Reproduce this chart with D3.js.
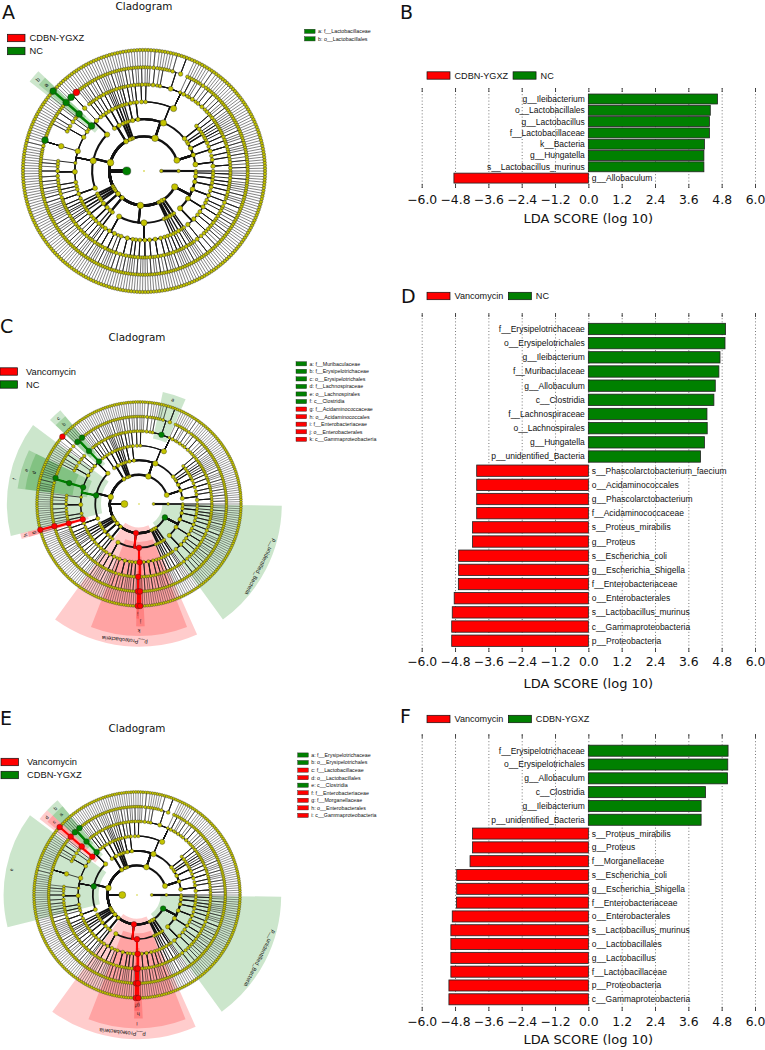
<!DOCTYPE html>
<html>
<head>
<meta charset="utf-8">
<script src="https://cdn.jsdelivr.net/npm/d3@7"></script>
<style>
body { margin: 0; background: #fff; }
svg { display: block; }
text { font-family: "DejaVu Sans", sans-serif; fill: #111; }
.lab { font-family: "Liberation Sans", Arial, sans-serif; }
</style>
</head>
<body>
<svg id="fig" width="765" height="1050"></svg>
<script>
// ---- LDA bars (signed: >0 second group, <0 first group) ----
const bGroups = ["CDBN-YGXZ", "NC"];
const bLabels = ["g__Ileibacterium","o__Lactobacillales","g__Lactobacillus","f__Lactobacillaceae","k__Bacteria","g__Hungatella","s__Lactobacillus_murinus","g__Allobaculum"];
const bValues = [4.65, 4.39, 4.36, 4.36, 4.18, 4.16, 4.16, -4.84];

const dGroups = ["Vancomycin", "NC"];
const dLabels = ["f__Erysipelotrichaceae","o__Erysipelotrichales","g__Ileibacterium","f__Muribaculaceae","g__Allobaculum","c__Clostridia","f__Lachnospiraceae","o__Lachnospirales","g__Hungatella","p__unidentified_Bacteria",
  "s__Phascolarctobacterium_faecium","o__Acidaminococcales","g__Phascolarctobacterium","f__Acidaminococcaceae","s__Proteus_mirabilis","g__Proteus","s__Escherichia_coli","g__Escherichia_Shigella","f__Enterobacteriaceae","o__Enterobacterales","s__Lactobacillus_murinus","c__Gammaproteobacteria","p__Proteobacteria"];
const dValues = [4.94, 4.92, 4.74, 4.70, 4.57, 4.52, 4.27, 4.28, 4.18, 4.04,
  -4.02, -4.02, -4.02, -4.02, -4.17, -4.17, -4.67, -4.67, -4.68, -4.83, -4.90, -4.92, -4.92];

const fGroups = ["Vancomycin", "CDBN-YGXZ"];
const fLabels = ["f__Erysipelotrichaceae","o__Erysipelotrichales","g__Allobaculum","c__Clostridia","g__Ileibacterium","p__unidentified_Bacteria",
  "s__Proteus_mirabilis","g__Proteus","f__Morganellaceae","s__Escherichia_coli","g__Escherichia_Shigella","f__Enterobacteriaceae","o__Enterobacterales","s__Lactobacillus_murinus","o__Lactobacillales","g__Lactobacillus","f__Lactobacillaceae","p__Proteobacteria","c__Gammaproteobacteria"];
const fValues = [5.03, 5.02, 5.01, 4.22, 4.06, 4.06,
  -4.17, -4.17, -4.26, -4.74, -4.74, -4.75, -4.90, -4.95, -4.95, -4.95, -4.95, -5.02, -5.02];

const ldaTicks = [-6.0, -4.8, -3.6, -2.4, -1.2, 0.0, 1.2, 2.4, 3.6, 4.8, 6.0];

// ---- cladogram letter keys ----
const aLetters = ["f__Lactobacillaceae","o__Lactobacillales"];
const cLetters = ["f__Muribaculaceae","f__Erysipelotrichaceae","o__Erysipelotrichales","f__Lachnospiraceae","o__Lachnospirales","c__Clostridia","f__Acidaminococcaceae","o__Acidaminococcales","f__Enterobacteriaceae","o__Enterobacterales","c__Gammaproteobacteria"];
const eLetters = ["f__Erysipelotrichaceae","o__Erysipelotrichales","f__Lactobacillaceae","o__Lactobacillales","c__Clostridia","f__Enterobacteriaceae","f__Morganellaceae","o__Enterobacterales","c__Gammaproteobacteria"];

// ---- taxonomy tree: phylum -> classes -> orders -> families -> genera (number = species count) ----
const actinobacteriota = [
  [ [[1,1],[1],[1,1]], [[1],[1,1]], [[1],[1]] ],
  [ [[1],[1,1],[1]], [[1],[1]] ],
  [ [[1,1],[1]], [[1]], [[1],[1]] ],
  [ [[1]], [[1],[1]] ],
  [ [[1]] ]
];
const bacteroidota = [
  [ [[1],[1,1]], [[1],[1]] ],
  [ [[1,1],[1],[1,1,1],[1,1],[1],[2,1],[1],[1],[1,1,1],[1],{n:"f__Muribaculaceae", c:[5,2,1,1]},[1,1],[1],[1,2],[1]],
    [[1],[1]], [[1,1],[1]] ],
  [ [[1],[1,1]], [[1]] ],
  [ [[1,1],[1]], [[1],[1]] ],
  [ [[1]] ]
];
const campylobacterota = [[[[1,1]]]];
const cyanobacteria = [[[[1]],[[1]]]];
const deferribacterota = [[[[1]],[[1]]]];
const desulfobacterota = [ [[[1],[1,1]], [[1],[1]]], [[[1,1]], [[1],[1]]] ];
const firmicutes = [
  [ [[1],[1]],
    {n:"o__Erysipelotrichales", c:[{n:"f__Erysipelotrichaceae", c:[{n:"g__Allobaculum", c:1}, 1, 1, {n:"g__Ileibacterium", c:1}, 1]}]},
    {n:"o__Lactobacillales", c:[{n:"f__Lactobacillaceae", c:[{n:"g__Lactobacillus", c:[1, {n:"s__Lactobacillus_murinus"}, 1]}]}, [1]]},
    [[1]] ],
  {n:"c__Clostridia", c:[
    [[1,1,1]], [[1,1],[1],[1,1]],
    {n:"o__Lachnospirales", c:[{n:"f__Lachnospiraceae", c:[1,1,1,1,1,1,{n:"g__Hungatella", c:1},1,2,1,1,1,1]}]},
    [[1]], [[1,1],[1],[1,1,1],[1,1],[1,1]], [[1],[1,1]], [[1],[1]] ]},
  [ {n:"o__Acidaminococcales", c:[{n:"f__Acidaminococcaceae", c:[{n:"g__Phascolarctobacterium", c:[{n:"s__Phascolarctobacterium_faecium"}]}, 1]}]},
    [[1,1],[1],[1]], [[1],[1]] ]
];
const fusobacteriota = [[[[1],[1]]]];
const gemmatimonadota = [[[[1]],[[1]]]];
const myxococcota = [[[[1,1]],[[1]]]];
const nitrospirota = [[[[1]]]];
const patescibacteria = [ [[[1],[1,1]], [[1],[1]]], [[[1,1]], [[1],[1]]] ];
const planctomycetota = [ [[[1,1],[1]]], [[[1]],[[1]]] ];
const proteobacteria = [
  [ [[1,1],[1]], [[1],[1],[1]], [[1,1],[1],[1]], [[1]] ],
  {n:"c__Gammaproteobacteria", c:[
    [[1],[1,1]], [[1,1],[1],[1,1]], [[1],[1]], [[1],[1]], [[1,1],[1]],
    {n:"o__Enterobacterales", c:[
      {n:"f__Enterobacteriaceae", c:[{n:"g__Escherichia_Shigella", c:[{n:"s__Escherichia_coli"}]}]},
      {n:"f__Morganellaceae", c:[{n:"g__Proteus", c:[{n:"s__Proteus_mirabilis"}]}]},
      [1] ]},
    [[1,1],[1]], [[1],[1,1],[1]], [[1,1],[1]], [[1],[1]], [[1,1]] ]},
  [[[1],[1]]]
];
const spirochaetota = [[[[1],[1]]]];
const synergistota = [[[[1]]]];
const verrucomicrobiota = [ [[[1,1],[1]]], [[[1]],[[1]]] ];
const wps2 = [[[[1]]]];
const unidentifiedBacteria = [
  [ [[1,1,1],[1,1]], [[1,1],[1],[1,1]], [[1],[1]] ],
  [ [[1,1],[1]], [[1],[1,1],[1]], [[1,1]] ],
  [ [[1],[1]], [[1,1,1],[1]], [[1],[1]] ],
  [ [[1,1],[1]], [[1],[1]] ],
  [ [[1],[1]], [[1,1]] ],
  [ [[1],[1]] ]
];
const archaeaPhylum = [[[[1]]]];

const treeSpec = {n:"root", c:[
  {n:"k__Archaea", c:[{n:"p__Archaea", c:archaeaPhylum}]},
  {n:"k__Bacteria", c:[
    {n:"p__Actinobacteriota", c:actinobacteriota},
    {n:"p__Bacteroidota", c:bacteroidota},
    {n:"p__Campylobacterota", c:campylobacterota},
    {n:"p__Cyanobacteria", c:cyanobacteria},
    {n:"p__Deferribacterota", c:deferribacterota},
    {n:"p__Desulfobacterota", c:desulfobacterota},
    {n:"p__Firmicutes", c:firmicutes},
    {n:"p__Fusobacteriota", c:fusobacteriota},
    {n:"p__Gemmatimonadota", c:gemmatimonadota},
    {n:"p__Myxococcota", c:myxococcota},
    {n:"p__Nitrospirota", c:nitrospirota},
    {n:"p__Patescibacteria", c:patescibacteria},
    {n:"p__Planctomycetota", c:planctomycetota},
    {n:"p__Proteobacteria", c:proteobacteria},
    {n:"p__Spirochaetota", c:spirochaetota},
    {n:"p__Synergistota", c:synergistota},
    {n:"p__Verrucomicrobiota", c:verrucomicrobiota},
    {n:"p__WPS-2", c:wps2},
    {n:"p__unidentified_Bacteria", c:unidentifiedBacteria}
  ]}
]};

// turn the compact spec into plain nodes (depth 6 = genus, 7 = species)
function build(spec, depth) {
  if (typeof spec === "number") {
    const node = {name: "", children: []};
    if (depth === 6) for (let i = 0; i < spec; i++) node.children.push({name: "", children: []});
    return node;
  }
  if (Array.isArray(spec)) return {name: "", children: spec.map(s => build(s, depth + 1))};
  let ch = [];
  if (typeof spec.c === "number") for (let i = 0; i < spec.c; i++) ch.push({name: "", children: []});
  else if (spec.c) ch = spec.c.map(s => build(s, depth + 1));
  return {name: spec.n, children: ch};
}
const treeData = build(treeSpec, 0);

const GREEN = "#008000", RED = "#ff0000", YEL = "#c4c400";
const svg = d3.select("#fig");

function panelLetter(t, x, y) {
  svg.append("text").attr("x", x).attr("y", y).attr("font-size", 19).text(t);
}

function drawClado(cfg) {
  const {cx, cy, R, labels, values, letters, groups, title, legX, legY, keyX, keyY} = cfg;
  const s = R / 105, step = R / 7;
  const sign = new Map(labels.map((l, i) => [l, values[i]]));
  const root = d3.hierarchy(treeData, d => d.children.length ? d.children : null);
  const leaves = root.leaves(), N = leaves.length, da = 360 / N;
  leaves.forEach((d, i) => { d.a0 = d.a1 = d.ang = i * da; });
  root.eachAfter(d => {
    if (d.children) {
      d.a0 = d.children[0].a0; d.a1 = d.children[d.children.length - 1].a1;
      d.ang = (d.a0 + d.a1) / 2;
    }
    d.r = d.depth * step;
    const v = sign.get(d.data.name);
    d.col = v === undefined ? null : (v < 0 ? RED : GREEN);
    d.nl = d.leaves().length;
  });
  const P = (a, r) => [cx + r * Math.cos(a * Math.PI / 180), cy - r * Math.sin(a * Math.PI / 180)];
  const g = svg.append("g");

  // shaded clades
  const outer = {2: 42, 3: 31, 4: 21, 5: 13}, labR = {2: 36, 3: 26, 4: 16.5, 5: 8};
  const marked = root.descendants().filter(d => d.col && d.depth >= 2 && d.depth <= 5).sort((a, b) => a.depth - b.depth);
  const arc = d3.arc();
  g.selectAll(null).data(marked).enter().append("path")
    .attr("transform", `translate(${cx},${cy})`)
    .attr("d", d => arc({innerRadius: d.r - 0.4 * step, outerRadius: R + outer[d.depth] * s,
      startAngle: (90 - d.a1 - da / 2) * Math.PI / 180, endAngle: (90 - d.a0 + da / 2) * Math.PI / 180}))
    .attr("fill", d => d.col).attr("fill-opacity", 0.2);
  marked.forEach(d => {
    const li = letters.indexOf(d.data.name);
    const txt = d.depth === 2 ? d.data.name : (li >= 0 ? "abcdefghijk"[li] : "");
    const [x, y] = P(d.ang, R + labR[d.depth] * s);
    g.append("text").attr("class", "lab").attr("x", x).attr("y", y)
      .attr("transform", `rotate(${90 - d.ang},${x},${y})`)
      .attr("text-anchor", "middle").attr("dominant-baseline", "central")
      .attr("font-size", (d.depth === 2 ? 5.8 : 5.2) * s).text(txt);
  });

  // branches
  const links = [];
  root.descendants().forEach(p => { if (p.depth >= 1 && p.children) p.children.forEach(c => links.push([p, c])); });
  const linkPath = (p, c) => {
    const [x0, y0] = P(p.ang, p.r), [x1, y1] = P(p.ang, c.r), [x2, y2] = P(c.ang, c.r);
    const dA = c.ang - p.ang;
    return `M${x0},${y0}L${x1},${y1}A${c.r},${c.r} 0 ${Math.abs(dA) > 180 ? 1 : 0} ${dA > 0 ? 0 : 1} ${x2},${y2}`;
  };
  const lw = {2: 2.2, 3: 1.8, 4: 1.1, 5: 0.8, 6: 0.55, 7: 0.45};
  g.selectAll(null).data(links).enter().append("path")
    .attr("d", d => linkPath(d[0], d[1])).attr("fill", "none")
    .attr("stroke", "#111").attr("stroke-width", d => lw[d[1].depth] * s);
  g.selectAll(null).data(links.filter(d => d[0].col && d[0].col === d[1].col)).enter().append("path")
    .attr("d", d => linkPath(d[0], d[1])).attr("fill", "none")
    .attr("stroke", d => d[1].col).attr("stroke-width", 2.2 * s);

  // nodes
  const nodes = root.descendants().sort((a, b) => (a.col ? 1 : 0) - (b.col ? 1 : 0));
  g.selectAll(null).data(nodes).enter().append("circle")
    .attr("cx", d => P(d.ang, d.r)[0]).attr("cy", d => P(d.ang, d.r)[1])
    .attr("r", d => d.depth === 0 ? 0.7 * s : Math.max((1.2 + 0.42 * Math.log(1 + d.nl)) * s, d.col ? 2.9 * s : 0))
    .attr("fill", d => d.col || YEL)
    .attr("stroke", d => d.depth === 0 ? "none" : "#222").attr("stroke-width", 0.35 * s);

  // title + group legend
  svg.append("text").attr("x", title[0]).attr("y", title[1]).attr("text-anchor", "middle")
    .attr("font-size", 10.4).text("Cladogram");
  groups.forEach((t, i) => {
    const yc = legY + i * 13;
    svg.append("rect").attr("x", legX).attr("y", yc - 3.7).attr("width", 17.5).attr("height", 7.4)
      .attr("fill", i === 0 ? RED : GREEN).attr("stroke", "#111").attr("stroke-width", 0.7);
    svg.append("text").attr("class", "lab").attr("x", legX + 22 + (legX < 3 ? 4 : 0)).attr("y", yc + 3.3)
      .attr("font-size", 9.3).text(t);
  });
  // letter key
  letters.forEach((t, i) => {
    const yc = keyY + i * 7.55;
    svg.append("rect").attr("x", keyX).attr("y", yc - 2.1).attr("width", 10.6).attr("height", 4.2)
      .attr("fill", sign.get(t) < 0 ? RED : GREEN).attr("stroke", "#222").attr("stroke-width", 0.4);
    svg.append("text").attr("class", "lab").attr("x", keyX + 13.5).attr("y", yc + 1.9)
      .attr("font-size", 5.3).text("abcdefghijk"[i] + ": " + t);
  });
}

function drawBars(cfg) {
  const {labels, values, groups, legY, top, y0, y1, bottom, pad, tickC, titleY} = cfg;
  const g = svg.append("g");
  const x = d3.scaleLinear().domain([-6, 6]).range([421.7, 755]);
  const y = d3.scaleBand().domain(labels).range([y0, y1]).paddingInner(pad).paddingOuter(pad / 2);
  const fmt = v => (v < 0 ? "\u2212" : "") + Math.abs(v).toFixed(1);

  // dotted grid
  const grid = g.append("g").attr("transform", `translate(0,${bottom})`)
    .call(d3.axisBottom(x).tickValues(ldaTicks).tickSize(-(bottom - top)).tickFormat(""));
  grid.select(".domain").remove();
  grid.selectAll("line").attr("stroke", "#555").attr("stroke-width", 0.8).attr("stroke-dasharray", "1,2.2");
  // tick marks top & bottom
  const tt = g.append("g").attr("transform", `translate(0,${top})`)
    .call(d3.axisTop(x).tickValues(ldaTicks).tickSize(-4).tickFormat(""));
  tt.select(".domain").remove();
  tt.selectAll("line").attr("stroke", "#333").attr("stroke-width", 0.9);
  const bt = g.append("g").attr("transform", `translate(0,${bottom})`)
    .call(d3.axisBottom(x).tickValues(ldaTicks).tickSize(-4).tickPadding(tickC - bottom - 4.5).tickFormat(fmt));
  bt.select(".domain").remove();
  bt.selectAll("line").attr("stroke", "#333").attr("stroke-width", 0.9);
  bt.selectAll("text").attr("font-family", "DejaVu Sans").attr("font-size", 12.4).attr("fill", "#111");

  g.selectAll(null).data(labels).enter().append("rect")
    .attr("x", (d, i) => x(Math.min(0, values[i])))
    .attr("width", (d, i) => Math.abs(x(values[i]) - x(0)))
    .attr("y", d => y(d)).attr("height", y.bandwidth())
    .attr("fill", (d, i) => values[i] < 0 ? RED : GREEN)
    .attr("stroke", "#222").attr("stroke-width", 0.8);
  g.selectAll(null).data(labels).enter().append("text").attr("class", "lab")
    .attr("x", (d, i) => values[i] < 0 ? x(0) + 3.5 : x(0) - 3.5)
    .attr("y", d => y(d) + y.bandwidth() / 2).attr("dy", "0.35em")
    .attr("text-anchor", (d, i) => values[i] < 0 ? "start" : "end")
    .attr("font-size", 8.5).text(d => d);

  svg.append("text").attr("x", x(0)).attr("y", titleY).attr("text-anchor", "middle")
    .attr("font-size", 13).text("LDA SCORE (log 10)");

  // legend
  let lx = 427;
  groups.forEach((t, i) => {
    svg.append("rect").attr("x", lx).attr("y", legY - 3.7).attr("width", 23).attr("height", 7.4)
      .attr("fill", i === 0 ? RED : GREEN).attr("stroke", "#111").attr("stroke-width", 0.7);
    const tx = svg.append("text").attr("class", "lab").attr("x", lx + 27.5).attr("y", legY + 3.2)
      .attr("font-size", 9.1).text(t);
    lx = lx + 27.5 + tx.node().getComputedTextLength() + 5;
  });
}

// ---- panels ----
panelLetter("A", 2, 18.5);
drawClado({cx: 144, cy: 171, R: 121, labels: bLabels, values: bValues, letters: aLetters, groups: bGroups,
  title: [144, 10], legX: 7.5, legY: 38, keyX: 304.5, keyY: 31.3});
panelLetter("B", 400, 18.5);
drawBars({labels: bLabels, values: bValues, groups: bGroups, legY: 75.5, top: 88, y0: 93.35, y1: 183.75,
  bottom: 188, pad: 0.12, tickC: 200, titleY: 222.5});

panelLetter("C", 0, 333);
drawClado({cx: 139, cy: 504, R: 102, labels: dLabels, values: dValues, letters: cLetters, groups: dGroups,
  title: [137, 341], legX: 0, legY: 371.5, keyX: 296, keyY: 363.8});
panelLetter("D", 401, 303);
drawBars({labels: dLabels, values: dValues, groups: dGroups, legY: 296, top: 313, y0: 321.9, y1: 647.8,
  bottom: 652, pad: 0.2, tickC: 662, titleY: 687.5});

panelLetter("E", 0, 725);
drawClado({cx: 137, cy: 895, R: 103, labels: fLabels, values: fValues, letters: eLetters, groups: fGroups,
  title: [137, 732], legX: 1, legY: 762, keyX: 297.7, keyY: 755});
panelLetter("F", 400, 723);
drawBars({labels: fLabels, values: fValues, groups: fGroups, legY: 719, top: 734, y0: 743.8, y1: 1006.2,
  bottom: 1011, pad: 0.2, tickC: 1022, titleY: 1043.5});
</script>
</body>
</html>
